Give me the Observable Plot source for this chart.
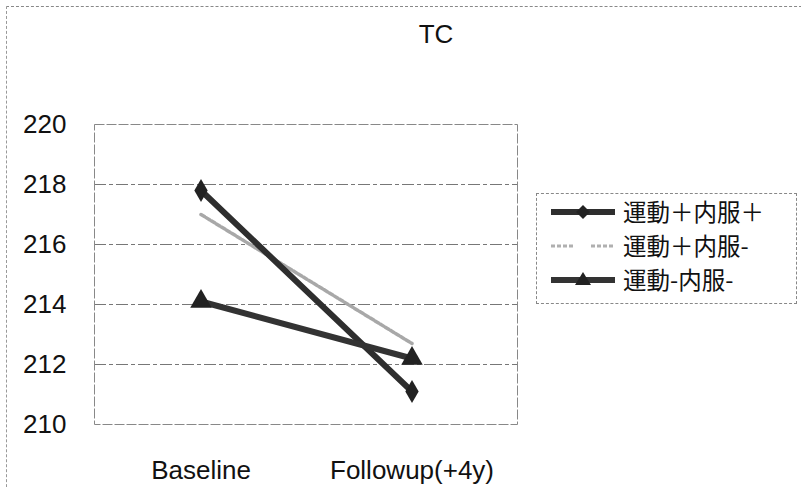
<!DOCTYPE html>
<html>
<head>
<meta charset="utf-8">
<script src="https://cdn.jsdelivr.net/npm/d3@7"></script>
<script src="https://cdn.jsdelivr.net/npm/@observablehq/plot@0.6"></script>
<style>
  body { margin: 0; background: #fff; }
  #wrap { position: relative; width: 801px; height: 487px; overflow: hidden; background: #fff; }
  #border { position: absolute; left: 6px; top: 6px; width: 820px; height: 520px; border-left: 1px dashed #999; border-top: 1px dashed #888; }
  #title { position: absolute; left: 0; width: 872px; top: 19px; text-align: center; font: 26px "Liberation Sans", Arial, sans-serif; color: #111; }
  #legend { position: absolute; left: 536px; top: 193px; width: 261px; height: 111px; border: 1px dashed #888; box-sizing: border-box; }
  .row { position: absolute; left: 14px; height: 26px; display: flex; align-items: center; font: 23.5px/1 "Noto Sans CJK JP", sans-serif; color: #111; }
  .row span { line-height: 1; display: inline-block; }
  .row svg { margin-right: 8px; }
  svg.plot { position: absolute; left: 0; top: 0; }
</style>
</head>
<body>
<div id="wrap">
  <div id="border"></div>
  <div id="title"></div>
  <div id="legend"></div>
</div>
<script>
const categories = ["Baseline", "Followup(+4y)"];
const seriesNames = ["運動＋内服＋", "運動＋内服-", "運動-内服-"];
const s1Values = [217.8, 211.1];
const s2Values = [217.0, 212.7];
const s3Values = [214.1, 212.2];
const yTicks = [210, 212, 214, 216, 218, 220];
const titleText = "TC";

const allValues = [s1Values, s2Values, s3Values];
const data = [];
allValues.forEach((vals, si) => vals.forEach((v, ci) => data.push({series: seriesNames[si], time: categories[ci], value: v})));
const bySeries = name => data.filter(d => d.series === name);

const chart = Plot.plot({
  width: 801,
  height: 487,
  marginLeft: 94,
  marginRight: 284,
  marginTop: 124,
  marginBottom: 63,
  style: {background: "transparent", fontFamily: "'Liberation Sans', Arial, sans-serif", color: "#111"},
  x: {type: "band", domain: categories, padding: 0, label: null},
  y: {domain: [210, 220], label: null},
  marks: [
    Plot.ruleY(yTicks.slice(1, -1), {stroke: "#777", strokeWidth: 1, strokeDasharray: "12,3,4,3"}),
    Plot.frame({stroke: "#888", strokeDasharray: "10,2"}),
    Plot.axisY({ticks: yTicks, tickSize: 0, tickPadding: 28, fontSize: 26, tickFormat: d => String(d), label: null}),
    Plot.axisX({tickSize: 0, tickPadding: 36, fontSize: 26, label: null}),
    Plot.line(bySeries(seriesNames[1]), {x: "time", y: "value", stroke: "#a8a8a8", strokeWidth: 3.5, strokeDasharray: "4,2"}),
    Plot.line(bySeries(seriesNames[0]), {x: "time", y: "value", stroke: "#2e2e2e", strokeWidth: 6}),
    Plot.line(bySeries(seriesNames[2]), {x: "time", y: "value", stroke: "#333", strokeWidth: 6}),
    Plot.dot(bySeries(seriesNames[0]), {x: "time", y: "value", symbol: "diamond", r: 7, fill: "#222"}),
    Plot.dot(bySeries(seriesNames[2]), {x: "time", y: "value", symbol: "triangle", r: 8, fill: "#222"})
  ]
});
document.getElementById("wrap").appendChild(chart);
document.getElementById("title").textContent = titleText;

// legend
const legend = document.getElementById("legend");
const swatches = [
  `<svg width="64" height="16"><line x1="0" y1="8" x2="64" y2="8" stroke="#2e2e2e" stroke-width="6"/><path d="M32,1 L39,8 L32,15 L25,8Z" fill="#222"/></svg>`,
  `<svg width="64" height="16"><line x1="0" y1="8" x2="24" y2="8" stroke="#b0b0b0" stroke-width="3" stroke-dasharray="4,2"/><line x1="40" y1="8" x2="64" y2="8" stroke="#b0b0b0" stroke-width="3" stroke-dasharray="4,2"/></svg>`,
  `<svg width="64" height="16"><line x1="0" y1="8" x2="64" y2="8" stroke="#333" stroke-width="6"/><path d="M32,0 L40,13 L24,13Z" fill="#222"/></svg>`
];
const tops = [5, 39, 73];
seriesNames.forEach((name, i) => {
  const row = document.createElement("div");
  row.className = "row";
  row.style.top = tops[i] + "px";
  row.innerHTML = swatches[i] + `<span>${name}</span>`;
  legend.appendChild(row);
});
</script>
</body>
</html>
